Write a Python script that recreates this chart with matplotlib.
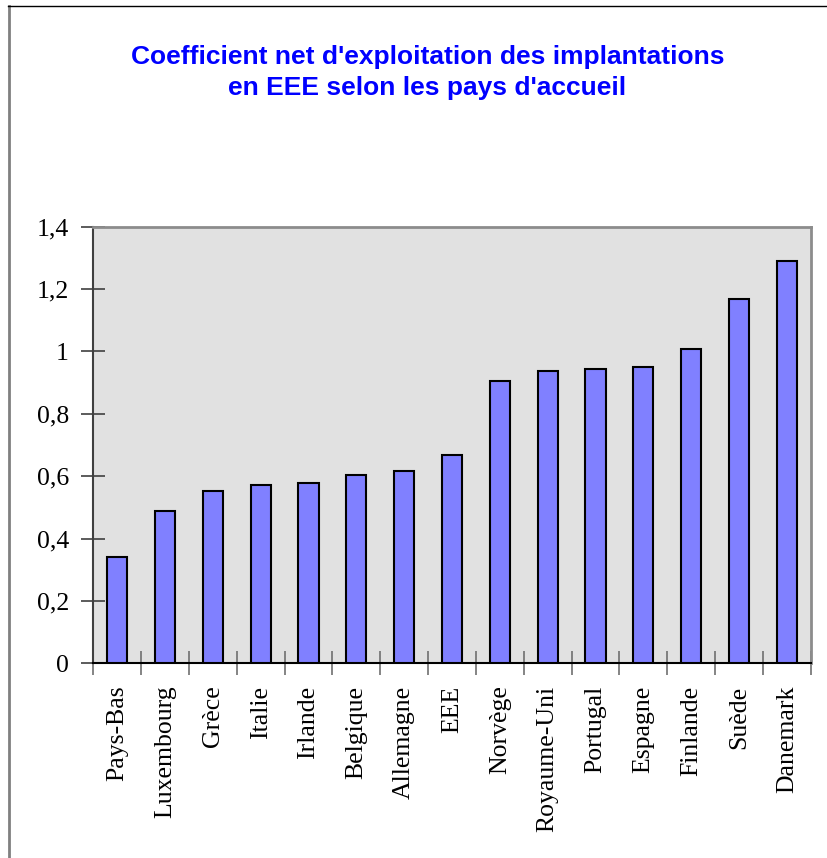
import matplotlib.pyplot as plt
from matplotlib.lines import Line2D
from matplotlib.ticker import FixedLocator, FuncFormatter

pays = ["Pays-Bas", "Luxembourg", "Grèce", "Italie", "Irlande", "Belgique",
        "Allemagne", "EEE", "Norvège", "Royaume-Uni", "Portugal", "Espagne",
        "Finlande", "Suède", "Danemark"]
coef = [0.34, 0.488, 0.552, 0.572, 0.578, 0.604, 0.618, 0.668,
        0.905, 0.937, 0.945, 0.951, 1.009, 1.169, 1.291]
y_ticks = [0, 0.2, 0.4, 0.6, 0.8, 1.0, 1.2, 1.4]
titre = ["Coefficient net d'exploitation des implantations",
         "en EEE selon les pays d'accueil"]

fig = plt.figure(figsize=(8.27, 8.58), dpi=100)
ax = fig.add_axes([0.1128, 0.2269, 0.8675, 0.5089])

x = list(range(len(pays)))
ax.bar(x, coef, width=0.42, color="#8080ff", edgecolor="black", linewidth=1.5, zorder=3)

ax.set_facecolor("#e1e1e1")
ax.set_xlim(-0.5, len(pays) - 0.5)
ax.set_ylim(0, 1.4)

ax.set_yticks(y_ticks)
ax.yaxis.set_major_formatter(FuncFormatter(lambda v, p: ("%g" % round(v, 1)).replace(".", ",")))
ax.tick_params(axis="y", direction="inout", length=17, width=1.2, color="#404040",
               labelsize=18.5, pad=9)

ax.set_xticks(x)
ax.set_xticklabels(pays, rotation=90)
ax.tick_params(axis="x", which="major", length=0, labelsize=18.5, pad=16)
ax.xaxis.set_minor_locator(FixedLocator([i - 0.5 for i in range(len(pays) + 1)]))
ax.tick_params(axis="x", which="minor", direction="inout", length=17, width=1.2, color="#707070")

for lab in ax.get_xticklabels() + ax.get_yticklabels():
    lab.set_family("Liberation Serif")

ax.spines["left"].set_color("#404040")
ax.spines["left"].set_linewidth(1.5)
ax.spines["bottom"].set_color("black")
ax.spines["bottom"].set_linewidth(1.5)
ax.spines["top"].set_color("#8c8c8c")
ax.spines["top"].set_linewidth(2)
ax.spines["right"].set_color("#8c8c8c")
ax.spines["right"].set_linewidth(2)

# titre sur deux lignes, bases placees a la main
for ligne, yb in zip(titre, [0.9251, 0.8893]):
    fig.text(0.517, yb, ligne, ha="center", va="baseline", color="#0000ff",
             fontsize=19, fontweight="bold", family="Liberation Sans")

# cadre autour du graphique
fig.add_artist(Line2D([9 / 827, 9 / 827], [0, 1 - 6 / 858], transform=fig.transFigure,
                      color="#808080", linewidth=2))
fig.add_artist(Line2D([8 / 827, 1], [1 - 6 / 858, 1 - 6 / 858], transform=fig.transFigure,
                      color="black", linewidth=1))

fig.savefig("out.png", dpi=100)
